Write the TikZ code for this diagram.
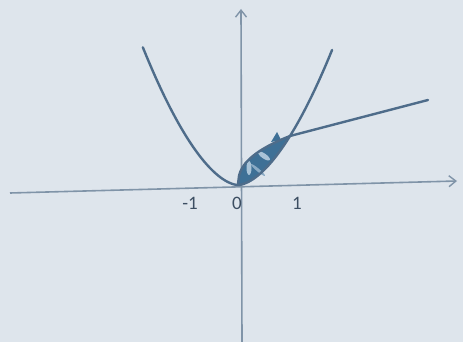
\documentclass[tikz,border=0pt]{standalone}
\usepackage{fontspec}
\setmainfont{Carlito}
\usetikzlibrary{arrows.meta}
\definecolor{bg}{RGB}{222,229,236}
\definecolor{axiscol}{RGB}{128,148,168}
\definecolor{curvecol}{RGB}{78,108,138}
\definecolor{fillcol}{RGB}{62,112,150}
\definecolor{hilite}{RGB}{170,195,215}
\definecolor{textcol}{RGB}{60,78,98}
\tikzset{
  axis/.style={axiscol, line width=1.6pt, -{Straight Barb[length=7pt,width=11pt,line width=1.4pt]}},
  curve/.style={curvecol, line width=2.4pt, line cap=round, line join=round},
  ticklabel/.style={font=\fontsize{19}{19}\selectfont, text=textcol, inner sep=0pt}
}
\begin{document}
\begin{tikzpicture}[x=1pt,y=-1pt]
\fill[bg] (0,0) rectangle (463,342);
\useasboundingbox (0,0) rectangle (463,342);
% axes
\coordinate (xl) at (10,193);
\coordinate (xr) at (457,181);
\coordinate (yb) at (242,342);
\coordinate (yt) at (241,9);
\draw[axis] (xl) -- (xr);
\draw[axis] (yb) -- (yt);
% shaded region between upper curve and parabola, 0<=u<=1
\fill[fillcol] plot[domain=0.0001:1, samples=40] ({238+52*\x},{185-49*(\x)^0.42})
  -- plot[domain=1:0.0001, samples=40] ({238+52*\x},{185-49*(\x)^1.71}) -- cycle;
% light patches in shading
\fill[hilite] (249,168) ellipse [x radius=2.5pt, y radius=7pt];
\fill[hilite, rotate around={-35:(264,156)}] (264,156) ellipse [x radius=7pt, y radius=2.5pt];
\fill[hilite!70!fillcol, rotate around={-40:(258,170)}] (258,170) ellipse [x radius=9pt, y radius=1.5pt];
% small spike
\fill[fillcol] (271,142) -- (277,132) -- (281,140) -- cycle;
% parabola
\draw[curve] plot[domain=-1.83:-0.0001, samples=50] ({238+52*\x},{185-49*(abs(\x))^1.71});
\draw[curve] plot[domain=0.0001:1.81, samples=50] ({238+52*\x},{185-49*(\x)^1.71});
% upper curve: root-like arc to (1,1), then a straight line
\coordinate (meet) at (290,136);
\coordinate (lineend) at (428,100);
\draw[curve] plot[domain=0.0001:1, samples=50] ({238+52*\x},{185-49*(\x)^0.42}) -- (lineend);
% labels
\node[ticklabel] (lm1) at (190,203) {-1};
\node[ticklabel] (l0) at (237,203) {0};
\node[ticklabel] (l1) at (297,203) {1};
\end{tikzpicture}
\end{document}
